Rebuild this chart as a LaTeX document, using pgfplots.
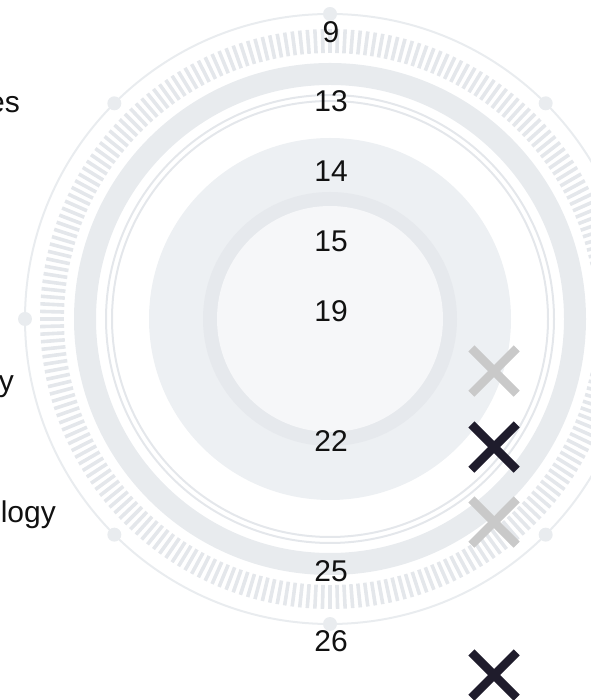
\documentclass[border=0pt]{standalone}
\usepackage{pgfplots}
\pgfplotsset{compat=1.18}
\usepackage{pgfplotstable}
\usepackage{fontspec}
\setmainfont{Liberation Sans}
\definecolor{ringA}{HTML}{E9ECEF}
\definecolor{tickc}{HTML}{E4E7EB}
\definecolor{bandc}{HTML}{E8EBEE}
\definecolor{diskc}{HTML}{EDF0F3}
\definecolor{ringB}{HTML}{E6E9ED}
\definecolor{innerc}{HTML}{F6F7F9}
\definecolor{xgray}{HTML}{C9C9C9}
\definecolor{xdark}{HTML}{1F1C2C}
\definecolor{txt}{HTML}{111111}

\pgfplotstableread{
x y label
331 32 9
331 101.5 13
331 171.5 14
331 241.5 15
331 311.5 19
331 441.5 22
331 571.5 25
331 641.5 26
}\numbers

\pgfplotstableread{
x y label
20 112 es
14 391 y
56 522 logy
}\cats

\pgfplotstableread{
x y
494 371
494 522
}\xlight

\pgfplotstableread{
x y
494 447
494 675
}\xdarkpts

\begin{document}
\begin{tikzpicture}
% decorative background (centre at pixel 330,319 -> 330bp, 381bp)
\begin{scope}[shift={(330bp,381bp)}]
  \draw[ringA, line width=2bp] (0,0) circle[radius=305bp];
  \foreach \a in {0,45,...,315} {\fill[ringA] (\a:305bp) circle[radius=7bp];}
  \foreach \a in {0,1.5,...,358.5} {\draw[tickc, line width=3.6bp] (\a:266bp) -- (\a:290bp);}
  \draw[bandc, line width=22bp] (0,0) circle[radius=245bp];
  \draw[tickc, line width=2bp] (0,0) circle[radius=224bp];
  \draw[tickc, line width=2bp] (0,0) circle[radius=218bp];
  \fill[diskc] (0,0) circle[radius=181bp];
  \fill[ringB] (0,0) circle[radius=127bp];
  \fill[innerc] (0,0) circle[radius=113bp];
\end{scope}
\begin{axis}[
  at={(0,0)}, anchor=south west,
  scale only axis, width=591bp, height=700bp,
  xmin=0, xmax=591, ymin=0, ymax=700, y dir=reverse,
  hide axis, clip=false,
]
% numbers
\addplot[only marks, mark=none, nodes near coords, point meta=explicit symbolic,
  every node near coord/.append style={anchor=center, text=txt, inner sep=0pt,
  font=\fontsize{30bp}{36bp}\selectfont}]
  table[x=x, y=y, meta=label] {\numbers};
% category labels (cut at the left edge, as in the reference)
\addplot[only marks, mark=none, nodes near coords, point meta=explicit symbolic,
  every node near coord/.append style={anchor=base east, text=txt, inner sep=0pt,
  font=\fontsize{30bp}{36bp}\selectfont}]
  table[x=x, y=y, meta=label] {\cats};
% cross marks
\addplot[only marks, mark=x, mark size=32bp, xgray, mark options={line width=8.5bp}]
  table[x=x, y=y] {\xlight};
\addplot[only marks, mark=x, mark size=32bp, xdark, mark options={line width=8.5bp}]
  table[x=x, y=y] {\xdarkpts};
\end{axis}
\pgfresetboundingbox
\path (0,0) rectangle (591bp,700bp);
\end{tikzpicture}
\end{document}
